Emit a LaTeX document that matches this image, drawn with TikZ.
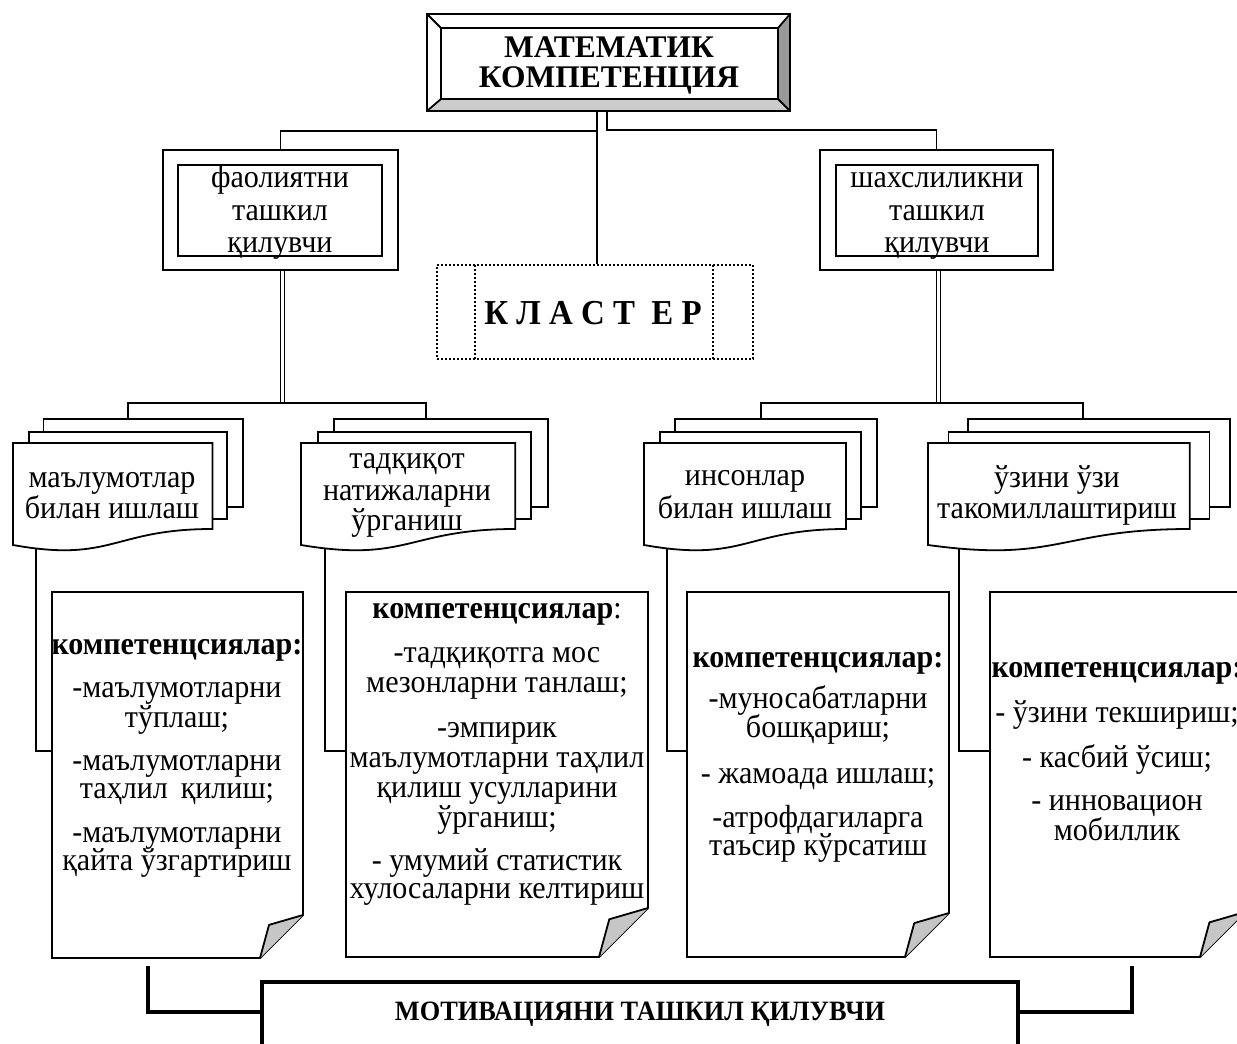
\documentclass[tikz,border=0pt]{standalone}
\usepackage{fontspec}
\setmainfont{Liberation Serif}[FakeStretch=0.94]
\newfontfamily\titlefont{Liberation Serif}
\pgfdeclarelayer{bg}
\pgfsetlayers{bg,main}
\newcommand{\mdoc}[2]{%
  \pgfmathsetmacro\mT{#2-#1}%
  \pgfmathsetmacro\mA{0.068*\mT}%
  \pgfmathsetmacro\mB{0.133*\mT}%
  \pgfmathsetmacro\mR{#2-\mB}%
  \pgfmathsetmacro\mM{(#1+\mR)/2}%
  \draw[ln,fill=white] (#1+\mB,419) rectangle (#2,507);
  \draw[ln,fill=white] (#1+\mA,432) rectangle (#2-\mA,519);
  \draw[ln,fill=white] (#1,443) -- (\mR,443) -- (\mR,529) .. controls (\mM,529) and (\mM,563) .. (#1,545) -- cycle;
}
\newcommand{\cdoc}[5]{% L T R B d
  \draw[ln,fill=white] (#1,#2) -- (#3,#2) -- (#3,#4-#5) -- (#3-#5,#4) -- (#1,#4) -- cycle;
  \draw[ln,fill=gray!45,line join=round] (#3-#5,#4) -- (#3-0.79*#5,#4-0.77*#5) -- (#3,#4-#5);
}
\begin{document}
\begin{tikzpicture}[x=1pt,y=-1pt,
  ln/.style={line width=1.8pt,line join=miter},
  box/.style={draw,line width=1.8pt,fill=white,inner sep=0pt,outer sep=0pt},
  dots/.style={line width=2pt,dash pattern=on 2pt off 2pt},
  heavy/.style={line width=4pt},
  t/.style={inner sep=0pt,anchor=base,font=\fontsize{32}{33}\selectfont},
  tb/.style={inner sep=0pt,anchor=base,font=\fontsize{32}{33}\selectfont\bfseries}]
\useasboundingbox (0,0) rectangle (1237,1044);
\clip (0,0) rectangle (1237,1044);

% ---------- top box ----------
\node[box,minimum width=363pt,minimum height=97pt] (top) at (608.5,62.5) {};
\fill[gray!80] (790,14) -- (790,111) -- (778,99) -- (778,28) -- cycle;
\fill[gray!40] (427,111) -- (790,111) -- (778,99) -- (441,99) -- cycle;
\draw[ln] (441,28) rectangle (778,99);
\draw[ln] (top.north west) -- (441,28) (top.north east) -- (778,28)
          (top.south east) -- (778,99) (top.south west) -- (441,99);
\draw[ln] (top.north west) rectangle (top.south east);
\node[tb,font=\titlefont\fontsize{31.5}{32}\selectfont\bfseries] (tt1) at (609,57) {МАТЕМАТИК};
\node[tb,font=\titlefont\fontsize{31.5}{32}\selectfont\bfseries] (tt2) at (609,87) {КОМПЕТЕНЦИЯ};

% ---------- second level ----------
\node[box,minimum width=235pt,minimum height=120pt] (lbox) at (280.5,210) {};
\node[box,minimum width=204pt,minimum height=91pt] (lin) at (280,210.5) {};
\node[t] (l1) at (280,187) {фаолиятни};
\node[t] (l2) at (280,220) {ташкил};
\node[t] (l3) at (280,252) {қилувчи};

\node[box,minimum width=233pt,minimum height=120pt] (rbox) at (936.5,210) {};
\node[box,minimum width=202pt,minimum height=91pt] (rin) at (937,210.5) {};
\node[t] (r1) at (937,187) {шахслиликни};
\node[t] (r2) at (937,220) {ташкил};
\node[t] (r3) at (937,252) {қилувчи};

\node[draw,dots,inner sep=0pt,minimum width=316pt,minimum height=94pt] (cl) at (595,312) {};
\draw[dots] (475,265) -- (475,359) (713,265) -- (713,359);
\node[tb,font=\fontsize{35}{35}\selectfont\bfseries] (clt) at (593,324) {К Л А С Т~~Е Р};

% ---------- stacks ----------
\mdoc{13}{243}
\node[t] (a1) at (112,487) {маълумотлар};
\node[t] (a2) at (112,518) {билан ишлаш};
\mdoc{301}{548}
\node[t] (b1) at (407,468) {тадқиқот};
\node[t] (b2) at (407,500) {натижаларни};
\node[t] (b3) at (407,530) {ўрганиш};
\mdoc{644}{877}
\node[t] (d1) at (745,485) {инсонлар};
\node[t] (d2) at (745,518) {билан ишлаш};
\mdoc{928}{1230}
\node[t] (e1) at (1057,487) {ўзини ўзи};
\node[t] (e2) at (1057,518) {такомиллаштириш};

% ---------- competence pages ----------
\cdoc{52}{592}{303}{958}{43}
\node[tb] (p1h) at (177,654) {компетенцсиялар:};
\node[t] (p11) at (177,697) {-маълумотларни};
\node[t] (p12) at (177,727) {тўплаш;};
\node[t] (p13) at (177,770) {-маълумотларни};
\node[t] (p14) at (177,798) {таҳлил\, қилиш;};
\node[t] (p15) at (177,842) {-маълумотларни};
\node[t] (p16) at (177,870) {қайта ўзгартириш};

\cdoc{346}{592}{648}{957}{49}
\node[t] (p2h) at (497,618) {{\bfseries компетенцсиялар}:};
\node[t] (p21) at (497,662) {-тадқиқотга мос};
\node[t] (p22) at (497,692) {мезонларни танлаш;};
\node[t] (p23) at (497,737) {-эмпирик};
\node[t] (p24) at (497,767) {маълумотларни таҳлил};
\node[t] (p25) at (497,797) {қилиш усулларини};
\node[t] (p26) at (497,827) {ўрганиш;};
\node[t] (p27) at (497,870) {- умумий статистик};
\node[t] (p28) at (497,898) {хулосаларни келтириш};

\cdoc{687}{592}{949}{957}{44}
\node[tb] (p3h) at (818,667) {компетенцсиялар:};
\node[t] (p31) at (818,708) {-муносабатларни};
\node[t] (p32) at (818,737) {бошқариш;};
\node[t] (p33) at (818,783) {- жамоада ишлаш;};
\node[t] (p34) at (818,827) {-атрофдагиларга};
\node[t] (p35) at (818,855) {таъсир кўрсатиш};

\cdoc{990}{592}{1245}{957}{45}
\node[tb] (p4h) at (1117,677) {компетенцсиялар:};
\node[t] (p41) at (1117,722) {- ўзини текшириш;};
\node[t] (p42) at (1117,767) {- касбий ўсиш;};
\node[t] (p43) at (1117,810) {- инновацион};
\node[t] (p44) at (1117,840) {мобиллик};

% ---------- bottom ----------
\node[box,line width=4.5pt,minimum width=756pt,minimum height=120pt] (bot) at (640,1042) {};
\node[tb,font=\fontsize{28}{28}\selectfont\bfseries] (bt) at (640,1020) {МОТИВАЦИЯНИ ТАШКИЛ ҚИЛУВЧИ};

% ---------- connector coordinates ----------
\coordinate (tA) at (597,111);
\coordinate (tB) at (607,111);
\coordinate (s1d) at (128,419);
\coordinate (s2d) at (426,419);
\coordinate (s3d) at (761,420);
\coordinate (s4d) at (1083,420);
\coordinate (s1b) at (36,540);
\coordinate (s2b) at (325,540);
\coordinate (s3b) at (667,540);
\coordinate (s4b) at (959,540);
\coordinate (c1) at (52,751);
\coordinate (c2) at (346,751);
\coordinate (c3) at (687,751);
\coordinate (c4) at (990,751);
\coordinate (bl) at (262,1012);
\coordinate (br) at (1018,1012);
\coordinate (bk1) at (148,966);
\coordinate (bk2) at (1132,966);

\begin{pgfonlayer}{bg}
\draw[ln] (tA) -- (tA |- cl.north);
\draw[ln] (tB) -- ++(0,19) -| (rbox.north);
\draw[ln] (tA) ++(0,20) -| (lbox.north);
\draw[ln] (lbox.south) -- ++(0,133) ([xshift=4pt]lbox.south) -- ++(0,133);
\draw[ln] (rbox.south) -- ++(0,133) ([xshift=4pt]rbox.south) -- ++(0,133);
\draw[ln] (s1d) -- ++(0,-16) -| (s2d);
\draw[ln] (s3d) -- ++(0,-17) -| (s4d);
\draw[ln] (s1b) |- (c1);
\draw[ln] (s2b) |- (c2);
\draw[ln] (s3b) |- (c3);
\draw[ln] (s4b) |- (c4);
\draw[heavy] (bk1) |- (bl);
\draw[heavy] (br) -| (bk2);
\end{pgfonlayer}
\end{tikzpicture}
\end{document}
